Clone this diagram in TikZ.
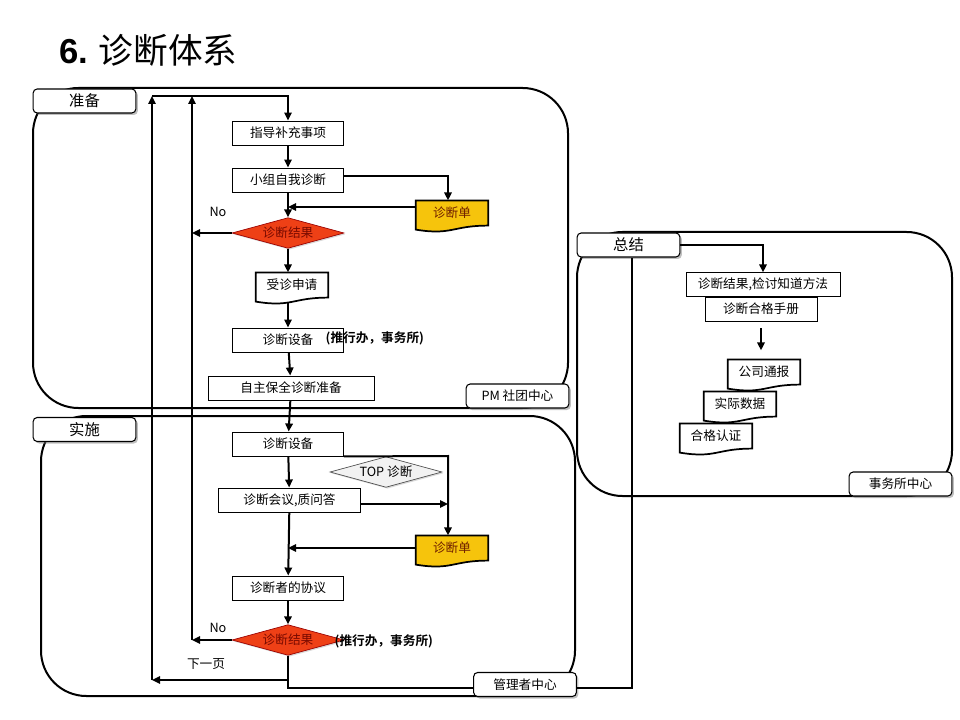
\documentclass[tikz,border=0pt]{standalone}
\usepackage{fontspec}
\setmainfont{Noto Sans CJK SC}[BoldFont={Noto Sans CJK SC Bold}]
\newfontfamily\arialfont{Liberation Sans}
\usetikzlibrary{shapes.geometric,arrows.meta,shadows,backgrounds,calc}

\definecolor{alarm}{RGB}{238,64,22}
\definecolor{alarmtext}{RGB}{120,10,0}
\definecolor{sheetfill}{RGB}{246,196,12}
\definecolor{sheettext}{RGB}{110,30,0}

% document outline with a wavy lower edge, behind the node text
\newcommand\docshape[2]{%
  \begin{pgfonlayer}{background}
    \draw[line width=1.3pt,fill=#2] (#1.north west) -- (#1.north east) -- (#1.south east)
      .. controls (#1.south) and ($(#1.south)+(0,10)$) .. ($(#1.south west)+(0,4)$) -- cycle;
  \end{pgfonlayer}}

\begin{document}
\begin{tikzpicture}[x=0.75pt,y=-0.75pt,
    every node/.style={font=\fontsize{9.5}{11}\selectfont},
    stepbox/.style={draw,line width=0.7pt,fill=white,rectangle,minimum width=83pt,minimum height=18pt,inner sep=1pt},
    paper/.style={rectangle,minimum width=54pt,minimum height=18.5pt,inner sep=1pt},
    sheet/.style={paper,text=sheettext},
    alarmbox/.style={diamond,aspect=3.6,inner sep=1pt,minimum width=84pt,minimum height=23pt,draw=red!60!black,line width=0.5pt,fill=alarm,text=alarmtext,drop shadow={shadow xshift=1pt,shadow yshift=-1pt,fill=black!30}},
    topbox/.style={alarmbox,draw=black!70,fill=black!5,text=black},
    tag/.style={draw,line width=0.8pt,fill=white,rounded corners=3pt,minimum width=77pt,minimum height=18pt,inner sep=1pt,font=\fontsize{11.5}{13}\selectfont,drop shadow={shadow xshift=1.5pt,shadow yshift=-1.5pt,fill=black!50}},
    small/.style={font=\fontsize{9.5}{11}\selectfont},
    zone/.style={draw,line width=1.5pt,rounded corners=34pt},
    line/.style={line width=1.5pt},
    flow/.style={line,-{Triangle[length=6pt,width=5.5pt]}}]
  \useasboundingbox (0,0) rectangle (960,720);

  \node[anchor=west,font=\fontsize{26}{30}\selectfont] at (55,50) (title) {{\arialfont\bfseries 6.} 诊断体系};

  % zones
  \draw[zone] (33,88) rectangle (568,408);
  \draw[zone] (41,416) rectangle (575,696);
  \draw[zone] (577,232) rectangle (952,496);

  % preparation
  \node[stepbox] at (288,133) (guide) {指导补充事项};
  \node[stepbox] at (288,180) (self) {小组自我诊断};
  \node[sheet] at (452,213) (sheet1) {诊断单};
  \node[alarmbox] at (288,233) (check1) {诊断结果};
  \node[paper] at (292,285) (apply) {受诊申请};
  \node[stepbox] at (288,340) (equip1) {诊断设备};
  \node[stepbox,minimum width=124.5pt] at (291,388) (prep) {自主保全诊断准备};
  \node[anchor=west,font=\fontsize{9.5}{11}\selectfont\bfseries] at (321,338) (who1) {(推行办，事务所)};
  \node at (218,212) (no1) {No};
  \docshape{sheet1}{sheetfill}
  \docshape{apply}{white}

  % execution
  \node[stepbox] at (288,444) (equip2) {诊断设备};
  \node[topbox] at (386,472) (top) {TOP 诊断};
  \node[stepbox,minimum width=106pt] at (289.5,500) (meet) {诊断会议,质问答};
  \node[sheet] at (452,548) (sheet2) {诊断单};
  \node[stepbox] at (288,588) (agree) {诊断者的协议};
  \node[alarmbox] at (288,640) (check2) {诊断结果};
  \node[anchor=west,font=\fontsize{9.5}{11}\selectfont\bfseries] at (330,641) (who2) {(推行办，事务所)};
  \node at (218,628) (no2) {No};
  \node at (206,664) (next) {下一页};
  \docshape{sheet2}{sheetfill}

  % summary
  \node[stepbox,minimum width=115.5pt,minimum height=17.5pt] at (763,284.5) (review) {诊断结果,检讨知道方法};
  \node[stepbox,minimum width=84pt] at (761,309) (manual) {诊断合格手册};
  \node[paper] at (764,372) (notice) {公司通报};
  \node[paper] at (740,404) (data) {实际数据};
  \node[paper] at (716,436) (cert) {合格认证};
  \docshape{notice}{white}
  \docshape{data}{white}
  \docshape{cert}{white}

  % zone tags
  \node[tag] at (84.5,101) (prepTag) {准备};
  \node[tag,small] at (517.5,396) (pmTag) {PM 社团中心};
  \node[tag] at (84.5,429.5) (runTag) {实施};
  \node[tag,small] at (525,684.5) (mgr) {管理者中心};
  \node[tag] at (628.5,245) (sumTag) {总结};
  \node[tag,small] at (900.5,484) (officeTag) {事务所中心};

  \coordinate (loopA) at (152,96);
  \coordinate (loopB) at (192,96);
  \coordinate (back1) at (192,640);
  \coordinate (back2) at (152,680);
  \coordinate (rail) at (448,456);
  \coordinate (in1) at ([yshift=4.5pt]sheet1.west);
  \coordinate (out2) at ([yshift=-3pt]meet.east);

  \draw[flow] (loopA) -| (guide);
  \draw[flow] (guide) -- (self);
  \draw[flow] ([yshift=3pt]self.east) -| ([xshift=-3pt]sheet1.north);
  \draw[flow] (self) -- (check1);
  \draw[flow] (in1) -- (in1 -| check1.north);
  \draw[flow] (check1.west) -- (check1.west -| loopB);
  \draw[flow] (check1) -- (check1.south |- apply.north);
  \draw[flow] ($(apply.south -| equip1.north)+(0,5)$) -- (equip1);
  \draw[flow] (equip1) -- (prep);
  \draw[flow] (prep) -- (equip2);

  \draw[flow] (equip2) -- (meet);
  \draw[flow] (equip2.south east) -- (rail) -- (rail |- sheet2.north);
  \draw[flow] (out2) -- (out2 -| rail);
  \draw[flow] (meet) -- (agree);
  \draw[flow] (sheet2.west) -- (sheet2.west -| agree.north);
  \draw[flow] (agree) -- (check2);
  \draw[flow] (check2.west) -- (back1);
  \draw[flow] (back1) -- (loopB);
  \draw[flow] (check2.south) |- (back2);
  \draw[flow] (back2) -- (loopA);
  \draw[line] (check2.south) |- ([yshift=-2.5pt]mgr.west);
  \draw[line] ([yshift=-2.5pt]mgr.east) -| ([xshift=2.6pt]sumTag.south);

  \draw[flow] (sumTag.east) -| (review.north);
  \draw[flow] ($(manual.south)+(0,7)$) -- ($(notice.north -| manual.south)+(0,-9)$);
\end{tikzpicture}
\end{document}
